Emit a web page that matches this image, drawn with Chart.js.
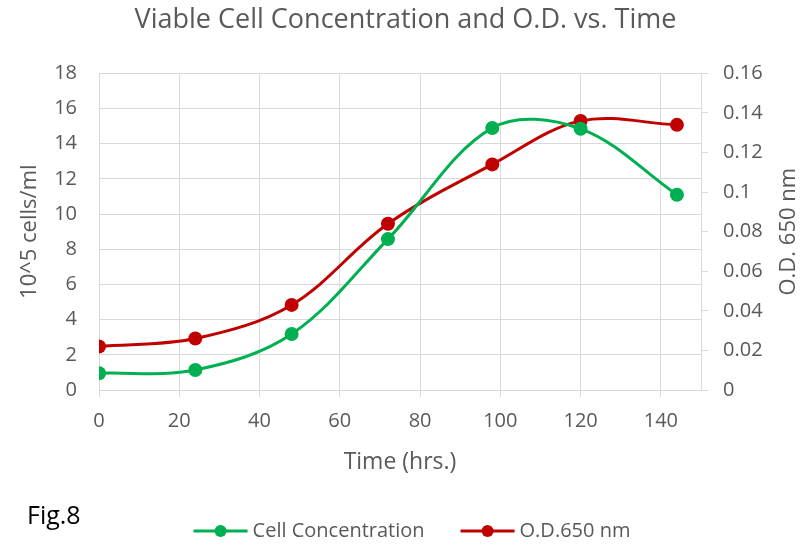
<!DOCTYPE html>
<html>
<head>
<meta charset="utf-8">
<script src="https://cdn.jsdelivr.net/npm/chart.js@4.4.1/dist/chart.umd.min.js"></script>
<style>
  body { margin: 0; background: #ffffff; }
  .wrap { position: relative; width: 811px; height: 545px; }
  .fig { position: absolute; left: 27px; top: 502px; font: 25px/25px "Open Sans", sans-serif; color: #000; }
</style>
</head>
<body>
<div class="wrap">
  <canvas id="chart" width="811" height="545"></canvas>
  <div class="fig">Fig.8</div>
</div>
<script>
// time points (hrs.)
let hours = [0, 24, 48, 72, 98, 120, 144];
// viable cells, 10^5 cells/ml
let cellConc = [0.95, 1.14, 3.18, 8.58, 14.9, 14.85, 11.1];
// optical density at 650 nm
let odValues = [0.022, 0.026, 0.043, 0.084, 0.114, 0.136, 0.134];

let xTicks = [0, 20, 40, 60, 80, 100, 120, 140];

let grey = "#595959";
let gridCol = "#d9d9d9";
let font = "Open Sans";
let rightTitle = "O.D. 650 nm";

//pair hours with values
let toPoints = (vals) => hours.map((h, i) => ({ x: h, y: vals[i] }));

//legend drawn like excel: line with dot, then text
let bottomLegend = {
  id: "bottomLegend",
  afterDraw(chart) {
    let ctx = chart.ctx;
    let sets = chart.data.datasets;
    ctx.save();
    ctx.font = "20px '" + font + "'";
    let markW = 54, gapTxt = 5, gapItem = 36;
    let widths = sets.map((d) => markW + gapTxt + ctx.measureText(d.label).width);
    let total = widths.reduce((a, b) => a + b, 0) + gapItem * (sets.length - 1);
    let x = 412 - total / 2;
    let y = 531;
    sets.forEach((d, i) => {
      ctx.strokeStyle = d.borderColor;
      ctx.lineWidth = 3;
      ctx.beginPath();
      ctx.moveTo(x, y);
      ctx.lineTo(x + markW, y);
      ctx.stroke();
      ctx.fillStyle = d.borderColor;
      ctx.beginPath();
      ctx.arc(x + markW / 2, y, 6, 0, Math.PI * 2);
      ctx.fill();
      ctx.fillStyle = grey;
      ctx.textBaseline = "middle";
      ctx.fillText(d.label, x + markW + gapTxt, y);
      x += widths[i] + gapItem;
    });
    ctx.restore();
  },
};

//right axis title reads bottom to top, like the left one
let rightAxisTitle = {
  id: "rightAxisTitle",
  afterDraw(chart) {
    let ctx = chart.ctx;
    let area = chart.chartArea;
    ctx.save();
    ctx.translate(789, (area.top + area.bottom) / 2);
    ctx.rotate(-Math.PI / 2);
    ctx.font = "22px '" + font + "'";
    ctx.fillStyle = grey;
    ctx.textAlign = "center";
    ctx.textBaseline = "middle";
    ctx.fillText(rightTitle, 0, 0);
    ctx.restore();
  },
};

let myChart = new Chart(document.getElementById("chart"), {
  type: "line",
  data: {
    datasets: [
      {
        label: "Cell Concentration",
        data: toPoints(cellConc),
        borderColor: "#00b050",
        backgroundColor: "#00b050",
        yAxisID: "y",
      },
      {
        label: "O.D.650 nm",
        data: toPoints(odValues),
        borderColor: "#c00000",
        backgroundColor: "#c00000",
        yAxisID: "y1",
      },
    ],
  },
  plugins: [bottomLegend, rightAxisTitle],
  options: {
    responsive: false,
    animation: false,
    elements: {
      line: { borderWidth: 3, tension: 0.35 },
      point: { radius: 7, borderWidth: 0 },
    },
    layout: { padding: { bottom: 65 } },
    plugins: {
      legend: { display: false },
      tooltip: { enabled: false },
      title: {
        display: true,
        text: "Viable Cell Concentration and O.D. vs. Time",
        color: grey,
        font: { family: font, size: 27, weight: "normal" },
        padding: { top: 4, bottom: 37 },
      },
    },
    scales: {
      x: {
        type: "linear",
        min: 0,
        max: 150,
        afterBuildTicks: (s) => {
          s.ticks = xTicks.map((v) => ({ value: v }));
        },
        afterFit: (s) => {
          s.height = 90;
        },
        grid: { color: gridCol, tickLength: 7 },
        border: { color: gridCol },
        ticks: { color: grey, font: { family: font, size: 20 }, padding: 12 },
        title: {
          display: true,
          text: "Time (hrs.)",
          color: grey,
          font: { family: font, size: 23 },
          padding: { bottom: 4 },
        },
      },
      y: {
        position: "left",
        min: 0,
        max: 18,
        afterFit: (s) => {
          s.width = 99;
        },
        grid: { color: gridCol, drawTicks: false },
        border: { display: false },
        ticks: { stepSize: 2, color: grey, font: { family: font, size: 20 }, padding: 22 },
        title: {
          display: true,
          text: "10^5 cells/ml",
          color: grey,
          font: { family: font, size: 22 },
          padding: { top: 17 },
        },
      },
      y1: {
        position: "right",
        min: 0,
        max: 0.16,
        afterFit: (s) => {
          s.width = 110;
        },
        grid: { drawOnChartArea: false, color: gridCol, tickLength: 7 },
        border: { color: gridCol },
        ticks: {
          stepSize: 0.02,
          color: grey,
          font: { family: font, size: 20 },
          padding: 15,
          callback: (v) => String(+v.toFixed(2)),
        },
      },
    },
  },
});
</script>
</body>
</html>
